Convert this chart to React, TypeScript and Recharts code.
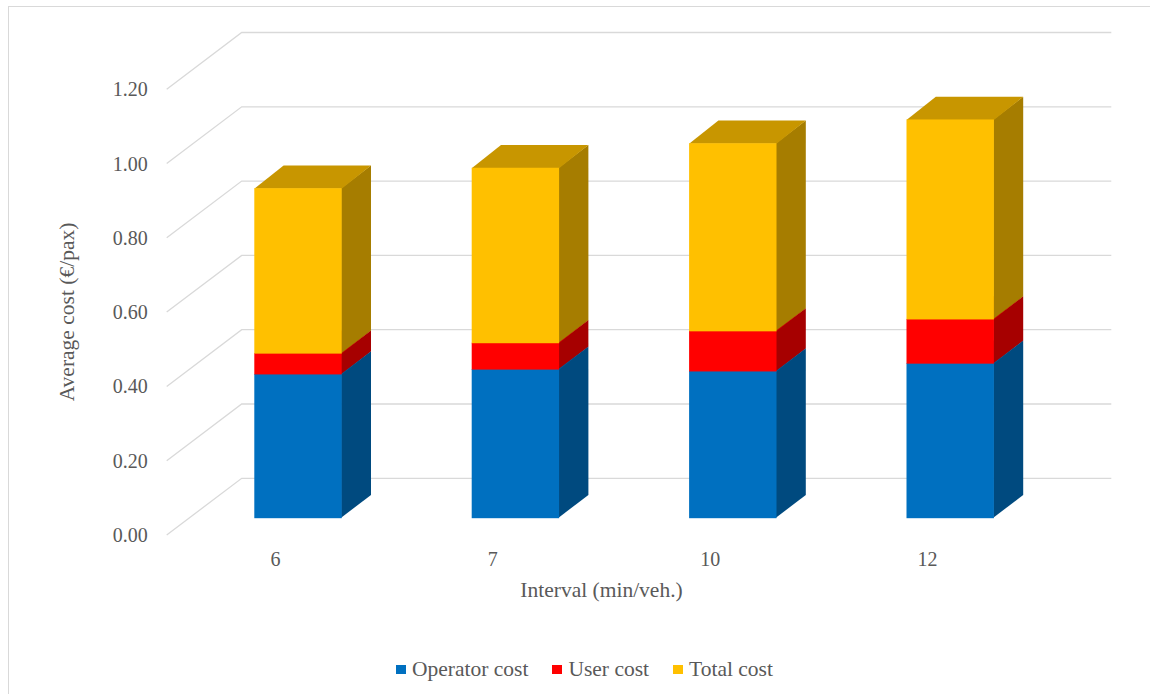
import { BarChart, Bar, XAxis, YAxis, CartesianGrid, Label } from "recharts";

// cost per passenger by service interval
const intervals = ["6", "7", "10", "12"];
const operatorCost = [0.387, 0.4, 0.395, 0.416];
const userCost = [0.056, 0.071, 0.108, 0.119];
const totalCost = [0.444, 0.471, 0.505, 0.537];
const yTicks = [0, 0.2, 0.4, 0.6, 0.8, 1.0, 1.2];

const series = [
  { key: "operator", name: "Operator cost", front: "#0070C0", side: "#004A7F", top: "#005A9A" },
  { key: "user", name: "User cost", front: "#FF0000", side: "#A60000", top: "#C80000" },
  { key: "total", name: "Total cost", front: "#FFC000", side: "#A67D00", top: "#C89600" },
];

const data = intervals.map((interval, i) => ({
  interval,
  operator: operatorCost[i],
  user: userCost[i],
  total: totalCost[i],
}));

const FONT = "'Liberation Serif', 'Times New Roman', serif";
const TEXT = "#595959";
const GRID = "#D9D9D9";

// plot area = plane of the bar fronts
const PLOT_LEFT = 189.3;
const PLOT_TOP = 71.9;
const PLOT_BOTTOM = 517.7;
const PLOT_RIGHT = 1058.9;

// oblique offsets for the fake 3d
const BOX_DX = 29.3;
const BOX_DY = -22.7;
const FRONT_DX = -22.6;
const FRONT_DY = 17.3;
const BACK_DX = 52.4;
const BACK_DY = -39.4;

const boxShape = (c: { front: string; side: string; top: string }) => (props: any) => {
  const { x, y, width: w, height: h } = props;
  if (h == null || w == null) return <g />;
  // side and top start slightly inside the front face so no seam shows
  const side = [
    [x + w - 0.6, y],
    [x + w + BOX_DX, y + BOX_DY],
    [x + w + BOX_DX, y + h + BOX_DY],
    [x + w - 0.6, y + h],
  ];
  const top = [
    [x, y + 0.6],
    [x + BOX_DX, y + BOX_DY],
    [x + w + BOX_DX, y + BOX_DY],
    [x + w, y + 0.6],
  ];
  const pts = (a: number[][]) => a.map((p) => p.join(",")).join(" ");
  return (
    <g>
      <polygon points={pts(side)} fill={c.side} />
      <polygon points={pts(top)} fill={c.top} />
      <rect x={x} y={y} width={w} height={h + 0.5} fill={c.front} />
    </g>
  );
};

const gridLine = (p: any) => (
  <polyline
    key={`grid-${p.index}`}
    points={`${p.x1 + FRONT_DX},${p.y1 + FRONT_DY} ${p.x1 + BACK_DX},${p.y1 + BACK_DY} ${p.x2 + BACK_DX},${p.y2 + BACK_DY}`}
    fill="none"
    stroke={GRID}
    strokeWidth={1.3}
  />
);

const YTick = ({ y, payload }: any) => (
  <text
    x={PLOT_LEFT + FRONT_DX - 19}
    y={y + FRONT_DY}
    textAnchor="end"
    dominantBaseline="central"
    fontFamily={FONT}
    fontSize={20}
    fill={TEXT}
  >
    {Number(payload.value).toFixed(2)}
  </text>
);

const XTick = ({ x, payload }: any) => (
  <text
    x={x + FRONT_DX}
    y={PLOT_BOTTOM + FRONT_DY + 24.3}
    textAnchor="middle"
    dominantBaseline="central"
    fontFamily={FONT}
    fontSize={20}
    fill={TEXT}
  >
    {payload.value}
  </text>
);

export default function App() {
  return (
    <div style={{ position: "absolute", left: 0, top: 0, width: 1150, height: 694, overflow: "hidden", background: "#fff" }}>
      <div
        style={{
          position: "absolute",
          left: 8,
          top: 6,
          width: 1200,
          height: 800,
          border: `1px solid ${GRID}`,
        }}
      />
      <div style={{ position: "absolute", left: 0, top: 0 }}>
        <BarChart
          width={1150}
          height={694}
          data={data}
          barSize={87.4}
          margin={{ top: PLOT_TOP, right: 1150 - PLOT_RIGHT, bottom: 694 - PLOT_BOTTOM - 60, left: 0 }}
        >
          <CartesianGrid vertical={false} horizontal={gridLine} />
          <XAxis dataKey="interval" height={60} axisLine={false} tickLine={false} tick={<XTick />}>
            <Label
              content={() => (
                <text
                  x={(PLOT_LEFT + PLOT_RIGHT) / 2 + FRONT_DX}
                  y={590}
                  textAnchor="middle"
                  dominantBaseline="central"
                  fontFamily={FONT}
                  fontSize={21.5}
                  fill={TEXT}
                >
                  Interval (min/veh.)
                </text>
              )}
            />
          </XAxis>
          <YAxis
            type="number"
            domain={[0, 1.2]}
            ticks={yTicks}
            width={PLOT_LEFT}
            axisLine={false}
            tickLine={false}
            tick={<YTick />}
            interval={0}
          >
            <Label
              content={() => (
                <text
                  x={67}
                  y={312}
                  transform="rotate(-90, 67, 312)"
                  textAnchor="middle"
                  dominantBaseline="central"
                  fontFamily={FONT}
                  fontSize={21.5}
                  fill={TEXT}
                >
                  Average cost (€/pax)
                </text>
              )}
            />
          </YAxis>
          {series.map((s) => (
            <Bar
              key={s.key}
              dataKey={s.key}
              name={s.name}
              stackId="cost"
              fill={s.front}
              shape={boxShape(s)}
              isAnimationActive={false}
            />
          ))}
        </BarChart>
      </div>
      <div
        style={{
          position: "absolute",
          left: 396,
          top: 656.8,
          display: "flex",
          alignItems: "center",
          fontFamily: FONT,
          fontSize: 21.5,
          color: TEXT,
          whiteSpace: "nowrap",
        }}
      >
        {series.map((s) => (
          <div key={s.key} style={{ display: "flex", alignItems: "center", marginRight: 24 }}>
            <span style={{ display: "inline-block", width: 9.5, height: 9.5, background: s.front, marginRight: 6.5 }} />
            {s.name}
          </div>
        ))}
      </div>
    </div>
  );
}
